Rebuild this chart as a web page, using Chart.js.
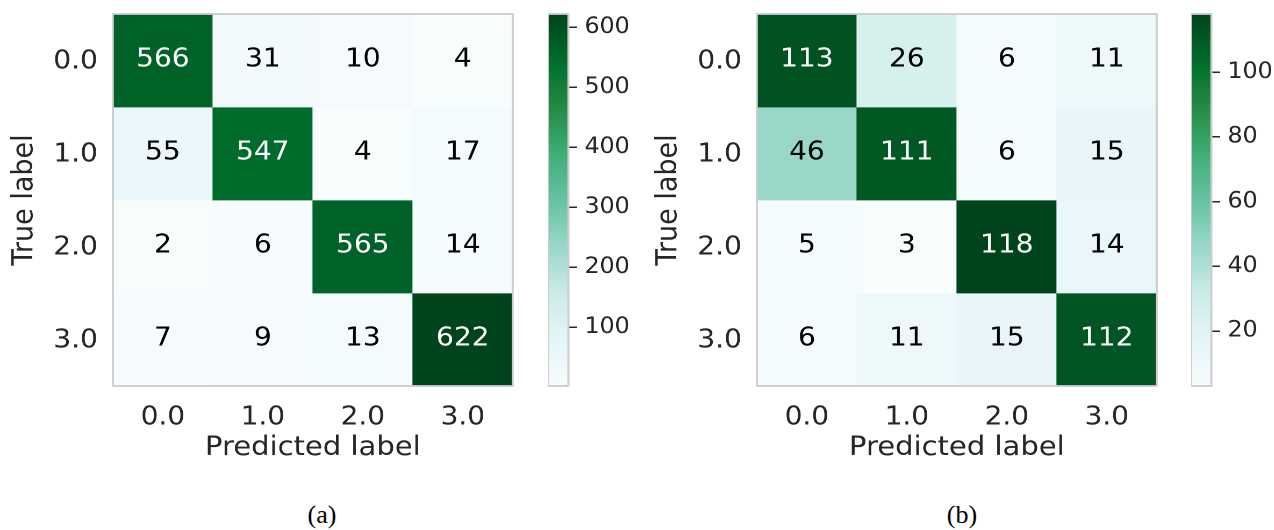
<!DOCTYPE html>
<html>
<head>
<meta charset="utf-8">
<script src="https://cdn.jsdelivr.net/npm/chart.js@4"></script>
<style>
  body { margin: 0; background: #ffffff; }
  #page { position: relative; width: 1274px; height: 530px; overflow: hidden; }
  /* the reference figure is stretched a little horizontally */
  canvas { position: absolute; top: 0; transform: scaleX(1.075); transform-origin: 0 0; }
  .caption {
    position: absolute; top: 500px; width: 80px; text-align: center;
    font-family: "Liberation Serif", serif; font-size: 26px; color: #000;
  }
</style>
</head>
<body>
<div id="page">
  <canvas id="matrixA" width="493" height="470" style="left:0px"></canvas>
  <canvas id="cbarA" width="79" height="400" style="left:548px"></canvas>
  <canvas id="matrixB" width="493" height="470" style="left:644px"></canvas>
  <canvas id="cbarB" width="77" height="400" style="left:1191px"></canvas>
  <div class="caption" style="left:282px">(a)</div>
  <div class="caption" style="left:922px">(b)</div>
</div>
<script>
// class labels (same for both axes)
const predictedLabels = ['0.0', '1.0', '2.0', '3.0'];
const trueLabels = ['0.0', '1.0', '2.0', '3.0'];

// confusion matrix (a), rows = true label
const countsA = [
    [566, 31, 10, 4],
    [55, 547, 4, 17],
    [2, 6, 565, 14],
    [7, 9, 13, 622]
];

// confusion matrix (b)
const countsB = [
    [113, 26, 6, 11],
    [46, 111, 6, 15],
    [5, 3, 118, 14],
    [6, 11, 15, 112]
];

const cbarTicksA = [100, 200, 300, 400, 500, 600];
const cbarTicksB = [20, 40, 60, 80, 100];

// matplotlib BuGn
const bugnStops = ['#f7fcfd', '#e5f5f9', '#ccece6', '#99d8c9', '#66c2a4',
                   '#41ae76', '#238b45', '#006d2c', '#00441b'];

const textColor = '#262626';
const fontFamily = '"DejaVu Sans", sans-serif';

function hexToRgb(h) {
    return [parseInt(h.slice(1, 3), 16), parseInt(h.slice(3, 5), 16), parseInt(h.slice(5, 7), 16)];
}

function bugn(t) {
    t = Math.min(1, Math.max(0, t));
    const pos = t * (bugnStops.length - 1);
    const i = Math.min(Math.floor(pos), bugnStops.length - 2);
    const f = pos - i;
    const a = hexToRgb(bugnStops[i]);
    const b = hexToRgb(bugnStops[i + 1]);
    const c = a.map((v, k) => Math.round(v + (b[k] - v) * f));
    return 'rgb(' + c.join(',') + ')';
}

const frame = {
    id: 'frame',
    afterDraw(chart) {
        const {ctx, chartArea} = chart;
        ctx.save();
        ctx.strokeStyle = '#cccccc';
        ctx.lineWidth = 1.8;
        ctx.strokeRect(chartArea.left, chartArea.top, chartArea.width, chartArea.height);
        ctx.restore();
    }
};

const cellText = {
    id: 'cellText',
    afterDatasetsDraw(chart, args, opts) {
        const ctx = chart.ctx;
        ctx.save();
        ctx.font = '26px ' + fontFamily;
        ctx.textAlign = 'center';
        ctx.textBaseline = 'middle';
        chart.data.datasets.forEach((ds, r) => {
            chart.getDatasetMeta(r).data.forEach((bar, c) => {
                const v = opts.values[r][c];
                ctx.fillStyle = v > opts.mid ? '#ffffff' : '#000000';
                ctx.fillText(String(v), bar.x, (bar.y + bar.base) / 2 - 1);
            });
        });
        ctx.restore();
    }
};

// keep tick label overhang from shrinking the plot area
function noLabelPadding(scale) {
    scale.paddingTop = 0;
    scale.paddingBottom = 0;
    scale.paddingLeft = 0;
    scale.paddingRight = 0;
}

function drawMatrix(canvasId, counts) {
    const flat = counts.flat();
    const vmin = Math.min(...flat);
    const vmax = Math.max(...flat);

    const datasets = counts.map((row, r) => ({
        data: row.map(() => [r - 0.5, r + 0.5]),
        backgroundColor: row.map(v => bugn((v - vmin) / (vmax - vmin))),
        borderWidth: 0,
        grouped: false,
        barPercentage: 1,
        categoryPercentage: 1
    }));

    new Chart(document.getElementById(canvasId), {
        type: 'bar',
        data: { labels: predictedLabels, datasets: datasets },
        options: {
            responsive: false,
            devicePixelRatio: 2,
            animation: false,
            events: [],
            layout: { padding: { left: 0, top: 14, right: 16, bottom: 0 } },
            plugins: {
                legend: { display: false },
                tooltip: { enabled: false },
                cellText: { values: counts, mid: (vmin + vmax) / 2 }
            },
            scales: {
                x: {
                    grid: { display: false, drawTicks: false },
                    border: { display: false },
                    ticks: { color: textColor, padding: 16, font: { family: fontFamily, size: 26 } },
                    title: {
                        display: true, text: 'Predicted label', color: textColor,
                        font: { family: fontFamily, size: 27 }, padding: { top: 0, bottom: 6 }
                    },
                    afterFit(scale) { scale.height = 84; noLabelPadding(scale); }
                },
                y: {
                    type: 'linear',
                    min: -0.5,
                    max: 3.5,
                    reverse: true,
                    grid: { display: false, drawTicks: false },
                    border: { display: false },
                    ticks: {
                        color: textColor, padding: 14, labelOffset: 1,
                        font: { family: fontFamily, size: 26 },
                        callback: value => trueLabels[value]
                    },
                    afterBuildTicks(scale) {
                        scale.ticks = trueLabels.map((l, i) => ({ value: i }));
                    },
                    title: {
                        display: true, text: 'True label', color: textColor,
                        font: { family: fontFamily, size: 27 }, padding: { top: 7, bottom: 0 }
                    },
                    afterFit(scale) { scale.width = 105; noLabelPadding(scale); }
                }
            }
        },
        plugins: [cellText, frame]
    });
}

function drawColorbar(canvasId, counts, tickValues) {
    const flat = counts.flat();
    const vmin = Math.min(...flat);
    const vmax = Math.max(...flat);

    new Chart(document.getElementById(canvasId), {
        type: 'bar',
        data: {
            labels: [''],
            datasets: [{
                data: [[vmin, vmax]],
                borderWidth: 0,
                barPercentage: 1,
                categoryPercentage: 1,
                backgroundColor(ctx) {
                    const area = ctx.chart.chartArea;
                    if (!area) return bugnStops[0];
                    const g = ctx.chart.ctx.createLinearGradient(0, area.bottom, 0, area.top);
                    bugnStops.forEach((c, i) => g.addColorStop(i / (bugnStops.length - 1), c));
                    return g;
                }
            }]
        },
        options: {
            responsive: false,
            devicePixelRatio: 2,
            animation: false,
            events: [],
            layout: { padding: { left: 0, top: 14, right: 0, bottom: 14 } },
            plugins: { legend: { display: false }, tooltip: { enabled: false } },
            scales: {
                x: { display: false },
                y: {
                    position: 'right',
                    min: vmin,
                    max: vmax,
                    border: { display: false },
                    grid: {
                        display: true, drawOnChartArea: false, drawTicks: true,
                        tickLength: 8, color: textColor, lineWidth: 1.5
                    },
                    ticks: { color: textColor, padding: 7, font: { family: fontFamily, size: 22 } },
                    afterBuildTicks(scale) {
                        scale.ticks = tickValues.map(v => ({ value: v }));
                    },
                    afterFit(scale) { scale.width = scale.chart.width - 19; noLabelPadding(scale); }
                }
            }
        },
        plugins: [frame]
    });
}

drawMatrix('matrixA', countsA);
drawColorbar('cbarA', countsA, cbarTicksA);
drawMatrix('matrixB', countsB);
drawColorbar('cbarB', countsB, cbarTicksB);
</script>
</body>
</html>
